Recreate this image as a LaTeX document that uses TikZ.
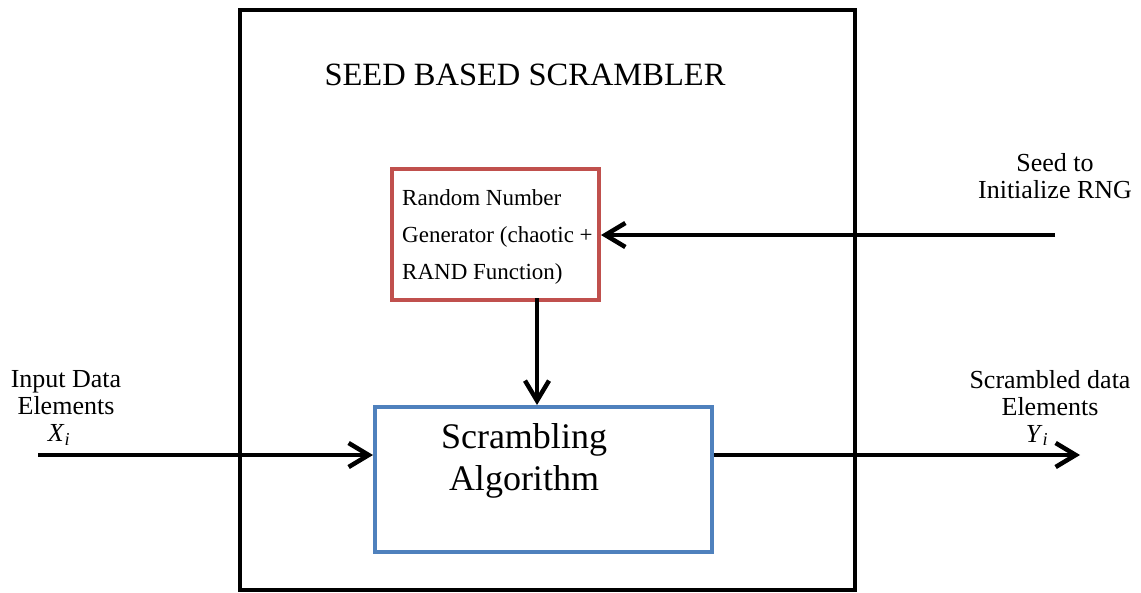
\documentclass[tikz,border=0pt]{standalone}
\usepackage{fontspec}
\setmainfont{Liberation Serif}
\usetikzlibrary{arrows.meta}
\definecolor{redbox}{RGB}{192,80,77}
\definecolor{bluebox}{RGB}{79,129,189}
\begin{document}
\begin{tikzpicture}[x=1pt,y=-1pt,
  conn/.style={line width=4pt,-{Straight Barb[length=20pt,width=24pt,line width=4.5pt]}},
  lbl/.style={font=\fontsize{26}{27}\selectfont,align=center,inner sep=0pt}]
\useasboundingbox (0,0) rectangle (1141,592);
\node[draw,line width=4pt,minimum width=615pt,minimum height=580pt,anchor=north west] (outer) at (238,8) {};
\node[font=\fontsize{32.5}{36}\selectfont,inner sep=0pt] (title) at (525,75) {SEED BASED SCRAMBLER};
\node[draw=redbox,line width=4pt,minimum width=207pt,minimum height=131pt,anchor=north west] (rng) at (390,167) {};
\node[align=left,font=\fontsize{23}{37}\selectfont,inner sep=0pt,anchor=north west] (rngtxt) at (402,189) {Random Number\\Generator (chaotic +\\RAND Function)};
\node[draw=bluebox,line width=4pt,minimum width=337pt,minimum height=145pt,anchor=north west] (scr) at (373,405) {};
\node[font=\fontsize{36}{42}\selectfont,align=center,inner sep=0pt] (scrtxt) at (524,461) {Scrambling\\Algorithm};
\coordinate (inS) at (38,455);
\coordinate (outE) at (1080,455);
\coordinate (seedS) at (1055,235);
\node[lbl] (inl) at (66,408) {Input Data\\Elements\\\textit{X}\textsubscript{\textit{i}}\hspace*{14pt}};
\node[lbl] (outl) at (1050,408) {Scrambled data\\Elements\\\textit{Y}\textsubscript{\textit{i}}\hspace*{26pt}};
\node[lbl] (seedl) at (1055,176) {Seed to\\Initialize RNG};
\draw[conn] (inS) -- (inS -| scr.west);
\draw[conn] (scr.east |- outE) -- (outE);
\draw[conn] (seedS) -- (seedS -| rng.east);
\draw[conn] (537,298) -- (537,405);
\end{tikzpicture}
\end{document}
